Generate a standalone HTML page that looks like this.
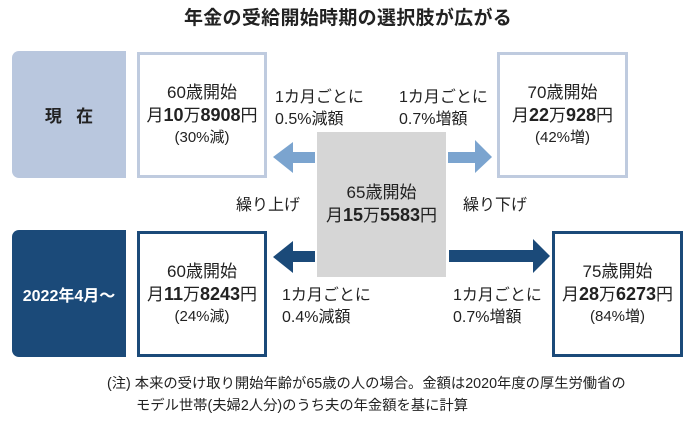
<!DOCTYPE html>
<html><head><meta charset="utf-8"><style>
body{margin:0;width:696px;height:440px;background:#fff;position:relative;overflow:hidden;font-family:"Liberation Sans","Noto Sans CJK JP",sans-serif;color:#222}
div{position:absolute;box-sizing:border-box}
.box{background:#fff;display:flex;flex-direction:column;justify-content:center;align-items:center;text-align:center}
.box span{display:block;line-height:22px}
.l1{font-size:17px}.l2{font-size:17px}.l2 b{font-size:18px}.l3{font-size:15px}
.lbl{font-size:16px;line-height:22px;white-space:nowrap}
</style></head><body>
<div style="left:0;top:6px;width:696px;text-align:center;font-size:19px;font-weight:bold;line-height:26px;letter-spacing:0.3px">年金の受給開始時期の選択肢が広がる</div>

<div style="left:12px;top:51px;width:114px;height:127px;background:#b9c7de;border-radius:7px 0 0 7px;display:flex;align-items:center;justify-content:center;font-weight:bold;font-size:17px;color:#222">現&nbsp;&nbsp;&nbsp;在</div>
<div style="left:12px;top:230px;width:114px;height:127px;background:#1b4a79;border-radius:7px 0 0 7px;display:flex;align-items:center;justify-content:center;font-weight:bold;font-size:16px;color:#fff">2022年4月～</div>

<div class="box" style="left:137px;top:52px;width:130px;height:126px;border:3px solid #bfcbdf"><span class="l1">60歳開始</span><span class="l2">月<b>10</b>万<b>8908</b>円</span><span class="l3">(30%減)</span></div>
<div class="box" style="left:497px;top:52px;width:131px;height:126px;border:3px solid #bfcbdf"><span class="l1">70歳開始</span><span class="l2">月<b>22</b>万<b>928</b>円</span><span class="l3">(42%増)</span></div>
<div class="box" style="left:137px;top:231px;width:130px;height:126px;border:3px solid #1b4a79"><span class="l1">60歳開始</span><span class="l2">月<b>11</b>万<b>8243</b>円</span><span class="l3">(24%減)</span></div>
<div class="box" style="left:552px;top:231px;width:131px;height:126px;border:3px solid #1b4a79"><span class="l1">75歳開始</span><span class="l2">月<b>28</b>万<b>6273</b>円</span><span class="l3">(84%増)</span></div>

<div class="box" style="left:317px;top:132px;width:129px;height:145px;background:#d6d6d6"><span class="l1">65歳開始</span><span class="l2">月<b>15</b>万<b>5583</b>円</span></div>

<svg style="position:absolute;left:0;top:0" width="696" height="440">
<polygon points="273,157 293,142 293,152 315,152 315,163 293,163 293,173" fill="#7ba4cf"/>
<polygon points="492,157 475,140 475,152 448,152 448,163 475,163 475,173" fill="#7ba4cf"/>
<polygon points="273,257 293,241 293,251 315,251 315,262 293,262 293,273" fill="#1b4a79"/>
<polygon points="550,256 533,239 533,250 449,250 449,262 533,262 533,273" fill="#1b4a79"/>
</svg>

<div class="lbl" style="left:275px;top:87px">1カ月ごとに<br>0.5%減額</div>
<div class="lbl" style="left:399px;top:87px">1カ月ごとに<br>0.7%増額</div>
<div class="lbl" style="left:236px;top:195px">繰り上げ</div>
<div class="lbl" style="left:463px;top:195px">繰り下げ</div>
<div class="lbl" style="left:282px;top:285px">1カ月ごとに<br>0.4%減額</div>
<div class="lbl" style="left:453px;top:285px">1カ月ごとに<br>0.7%増額</div>

<div style="left:107px;top:373px;font-size:14.3px;line-height:22px;white-space:nowrap">(注) 本来の受け取り開始年齢が65歳の人の場合。金額は2020年度の厚生労働省の<br><span style="padding-left:29px">モデル世帯(夫婦2人分)のうち夫の年金額を基に計算</span></div>
</body></html>
